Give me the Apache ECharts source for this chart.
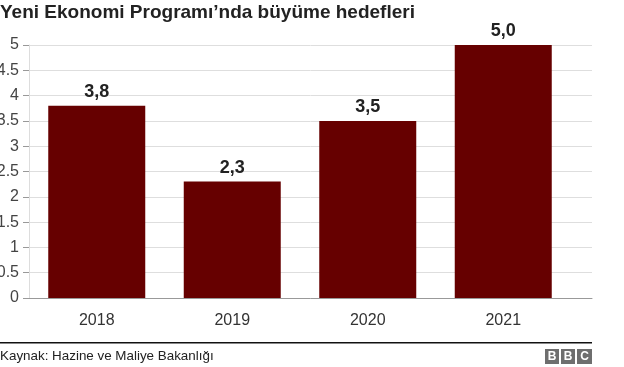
<!DOCTYPE html>
<html>
<head>
<meta charset="utf-8">
<script src="https://cdn.jsdelivr.net/npm/echarts@6/dist/echarts.min.js"></script>
<style>
html,body{margin:0;padding:0;background:#fff;}
#c{width:624px;height:367px;}
</style>
</head>
<body>
<div id="c"></div>
<script>
var titleText = "Yeni Ekonomi Programı’nda büyüme hedefleri";
var sourceText = "Kaynak: Hazine ve Maliye Bakanlığı";
var categories = ["2018", "2019", "2020", "2021"];
var values = [3.8, 2.3, 3.5, 5.0];
var yMin = 0, yMax = 5, yStep = 0.5;

var FONT = "Liberation Sans, Arial, Helvetica, sans-serif";
var chart = echarts.init(document.getElementById('c'), null, {renderer: 'canvas'});

var option = {
  animation: false,
  backgroundColor: '#fff',
  title: {
    text: titleText,
    left: 0, top: 3, padding: 0,
    textStyle: {fontFamily: FONT, fontSize: 19, fontWeight: 'bold', color: '#222'}
  },
  grid: [
    {left: 29, right: 32, top: 45, bottom: 69, containLabel: false, outerBoundsMode: 'none'},
    {left: 29, right: 53, top: 45, bottom: 69, containLabel: false, outerBoundsMode: 'none'}
  ],
  xAxis: [
    {
      gridIndex: 0, type: 'value', min: 0, max: 1,
      axisLine: {show: true, onZero: false, lineStyle: {color: '#999', width: 1}},
      axisTick: {show: false}, axisLabel: {show: false}, splitLine: {show: false}
    },
    {
      gridIndex: 1, type: 'category', data: categories,
      axisLine: {show: false}, axisTick: {show: false},
      axisLabel: {fontFamily: FONT, fontSize: 16, color: '#333', margin: 15}
    }
  ],
  yAxis: [
    {
      gridIndex: 0, type: 'value', min: yMin, max: yMax, interval: yStep,
      axisLine: {show: true, lineStyle: {color: '#ddd'}},
      axisTick: {show: true, length: 6, lineStyle: {color: '#999'}},
      axisLabel: {fontFamily: FONT, fontSize: 16, color: '#444', margin: 10,
        formatter: function (v) { return String(v); }},
      splitLine: {show: true, lineStyle: {color: '#dedede', width: 1}}
    },
    {
      gridIndex: 1, type: 'value', min: yMin, max: yMax, show: false,
      splitLine: {show: false}
    }
  ],
  series: [{
    type: 'bar',
    xAxisIndex: 1, yAxisIndex: 1,
    data: values,
    barWidth: 97,
    itemStyle: {color: '#660000'},
    label: {
      show: true, position: 'top', distance: 5,
      fontFamily: FONT, fontSize: 18, fontWeight: 'bold', color: '#222',
      formatter: function (p) { return p.value.toFixed(1).replace('.', ','); }
    }
  }],
  graphic: [
    {type: 'rect', shape: {x: 0, y: 342, width: 592, height: 1.5}, style: {fill: '#111'}},
    {type: 'text', left: 0, top: 350, style: {text: sourceText, font: '13.4px ' + FONT, fill: '#222'}},
    {type: 'rect', shape: {x: 545, y: 349, width: 14, height: 15}, style: {fill: '#6e6e6e'}},
    {type: 'rect', shape: {x: 561, y: 349, width: 14, height: 15}, style: {fill: '#6e6e6e'}},
    {type: 'rect', shape: {x: 577, y: 349, width: 15, height: 15}, style: {fill: '#6e6e6e'}},
    {type: 'text', x: 552, y: 357, style: {text: 'B', font: 'bold 12px ' + FONT, fill: '#fff', textAlign: 'center', textVerticalAlign: 'middle'}},
    {type: 'text', x: 568, y: 357, style: {text: 'B', font: 'bold 12px ' + FONT, fill: '#fff', textAlign: 'center', textVerticalAlign: 'middle'}},
    {type: 'text', x: 584.5, y: 357, style: {text: 'C', font: 'bold 12px ' + FONT, fill: '#fff', textAlign: 'center', textVerticalAlign: 'middle'}}
  ]
};
chart.setOption(option);
</script>
</body>
</html>
